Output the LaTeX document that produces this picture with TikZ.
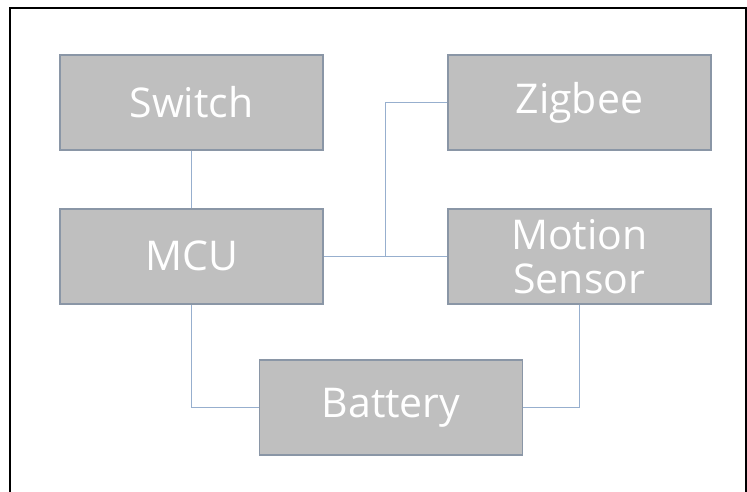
\documentclass[tikz,border=0pt]{standalone}
\usepackage{fontspec}
\setmainfont{Open Sans}
\usepackage{xcolor}
\usetikzlibrary{positioning, calc}

\definecolor{boxgray}{HTML}{BFBFBF}
\definecolor{boxedge}{HTML}{8A96A6}
\definecolor{wire}{HTML}{97AFCE}

\begin{document}
\begin{tikzpicture}[
        x=1pt, y=-1pt,
        node distance=57pt and 123pt,
        every node/.style={font=\fontsize{41}{46}\selectfont},
        box/.style={draw=boxedge, line width=1.8pt, fill=boxgray, text=white, minimum width=263pt, minimum height=95pt, align=center, inner sep=0pt},
        wire/.style={draw=wire, line width=1.6pt}
    ]
        \useasboundingbox (0,0) rectangle (747,492);
        \draw[line width=2.2pt] (10,492) -- (10,8) -- (747,8);
        \draw[line width=2.2pt] (746,8) -- (746,492);

        \node[box] (switch) at (191.5,102.5) {Switch};
        \node[box, below=of switch] (mcu) {MCU};
        \node[box, right=of switch] (zigbee) {Zigbee};
        \node[box, right=of mcu] (motion) {Motion\\[-2pt]Sensor};
        \node[box] (battery) at (391,407.5) {Battery};

        \coordinate (tap) at ($(mcu.east)!0.5!(motion.west)$);

        \draw[wire] (switch) -- (mcu);
        \draw[wire] (mcu) -- (motion);
        \draw[wire] (tap) |- (zigbee.west);
        \draw[wire] (mcu.south) |- (battery.west);
        \draw[wire] (motion.south) |- (battery.east);
    \end{tikzpicture}
\end{document}
